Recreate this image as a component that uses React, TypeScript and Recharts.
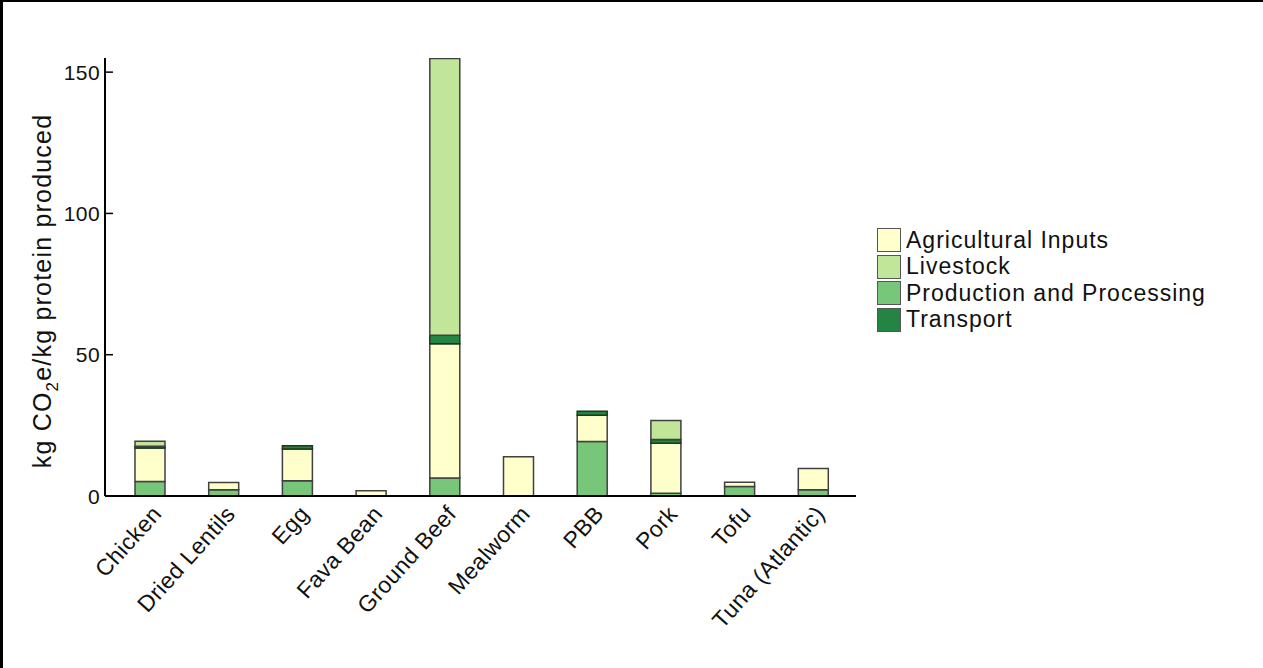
import React from "react";
import { BarChart, Bar, XAxis, YAxis, Legend } from "recharts";

const categories = [
  "Chicken",
  "Dried Lentils",
  "Egg",
  "Fava Bean",
  "Ground Beef",
  "Mealworm",
  "PBB",
  "Pork",
  "Tofu",
  "Tuna (Atlantic)",
];

// stacked bottom -> top: production, agricultural inputs, transport, livestock
const productionValues = [5.1, 2.2, 5.4, 0, 6.4, 0, 19.3, 1.0, 3.4, 2.2];
const agriculturalValues = [11.9, 2.6, 11.2, 1.9, 47.5, 13.9, 9.3, 17.7, 1.5, 7.5];
const transportValues = [0.6, 0, 1.2, 0, 3.0, 0, 1.4, 1.3, 0, 0];
const livestockValues = [1.8, 0, 0, 0, 97.9, 0, 0, 6.7, 0, 0];

const yTicks = [0, 50, 100, 150];

const legendNames = ["Agricultural Inputs", "Livestock", "Production and Processing", "Transport"];
const legendColors = ["#ffffcc", "#c2e699", "#78c679", "#238443"];

const font = "'Liberation Sans', Arial, sans-serif";

const data = categories.map((name, i) => ({
  name,
  production: productionValues[i] || null,
  agricultural: agriculturalValues[i] || null,
  transport: transportValues[i] || null,
  livestock: livestockValues[i] || null,
}));

const XTick = ({ x, y, payload }: any) => (
  <g transform={`translate(${x + 1},${y + 8})`}>
    <text
      transform="rotate(-48)"
      textAnchor="end"
      dy="0.7em"
      fontSize={23}
      letterSpacing={0.4}
      fill="#111"
      fontFamily={font}
    >
      {payload.value}
    </text>
  </g>
);

const YTick = ({ x, y, payload }: any) => (
  <g>
    <line x1={x + 5} x2={x + 13} y1={y} y2={y} stroke="#000" strokeWidth={1.5} />
    <text x={x} y={y} dy="0.36em" textAnchor="end" fontSize={21} letterSpacing={0.4} fill="#111" fontFamily={font}>
      {payload.value}
    </text>
  </g>
);

const YLabel = ({ viewBox }: any) => {
  const vb = viewBox || { x: 45, y: 58, width: 60, height: 438 };
  const cx = vb.x - 3;
  const cy = vb.y + vb.height / 2 + 14;
  return (
    <text
      transform={`translate(${cx},${cy}) rotate(-90)`}
      textAnchor="middle"
      dy="0.35em"
      fontSize={25}
      letterSpacing={1.2}
      fill="#111"
      fontFamily={font}
    >
      kg CO<tspan fontSize={17} dy={7}>2</tspan>
      <tspan dy={-7}>e/kg protein produced</tspan>
    </text>
  );
};

const renderLegend = () => (
  <div style={{ fontFamily: font, fontSize: 23, color: "#111" }}>
    {legendNames.map((n, i) => (
      <div key={n} style={{ display: "flex", alignItems: "center", height: 26.5 }}>
        <span
          style={{
            width: 22,
            height: 22,
            background: legendColors[i],
            border: "1.5px solid #555",
            marginRight: 5,
            flexShrink: 0,
          }}
        />
        <span style={{ letterSpacing: 1, lineHeight: 1 }}>{n}</span>
      </div>
    ))}
  </div>
);

export default function App() {
  return (
    <div style={{ position: "absolute", left: 0, top: 0, width: 1263, height: 668, background: "#fff" }}>
      <BarChart
        width={1263}
        height={668}
        data={data}
        margin={{ top: 58, right: 407, bottom: 72, left: 45 }}
      >
        <XAxis
          dataKey="name"
          height={100}
          interval={0}
          tickLine={false}
          tickSize={0}
          tickMargin={0}
          tick={<XTick />}
          padding={{ left: 8, right: 6 }}
          axisLine={{ stroke: "#000", strokeWidth: 2 }}
        />
        <YAxis
          width={60}
          domain={[0, 155]}
          ticks={yTicks}
          allowDataOverflow
          tickLine={false}
          tickSize={0}
          tickMargin={5}
          tick={<YTick />}
          axisLine={{ stroke: "#000", strokeWidth: 2 }}
          label={{ content: <YLabel /> }}
        />
        <Legend
          content={renderLegend}
          layout="vertical"
          verticalAlign="middle"
          align="center"
          wrapperStyle={{ position: "absolute", left: 877, top: 227, width: 380 }}
        />
        <Bar dataKey="production" stackId="a" fill="#78c679" stroke="#404040" strokeWidth={1.5} barSize={30} isAnimationActive={false} />
        <Bar dataKey="agricultural" stackId="a" fill="#ffffcc" stroke="#404040" strokeWidth={1.5} barSize={30} isAnimationActive={false} />
        <Bar dataKey="transport" stackId="a" fill="#238443" stroke="#1a3a1a" strokeWidth={1.5} barSize={30} isAnimationActive={false} />
        <Bar dataKey="livestock" stackId="a" fill="#c2e699" stroke="#404040" strokeWidth={1.5} barSize={30} isAnimationActive={false} />
      </BarChart>
      <div
        style={{
          position: "absolute",
          left: 0,
          top: 0,
          width: 1263,
          height: 668,
          borderTop: "2px solid #000",
          borderLeft: "3px solid #000",
          boxSizing: "border-box",
          pointerEvents: "none",
        }}
      />
    </div>
  );
}
